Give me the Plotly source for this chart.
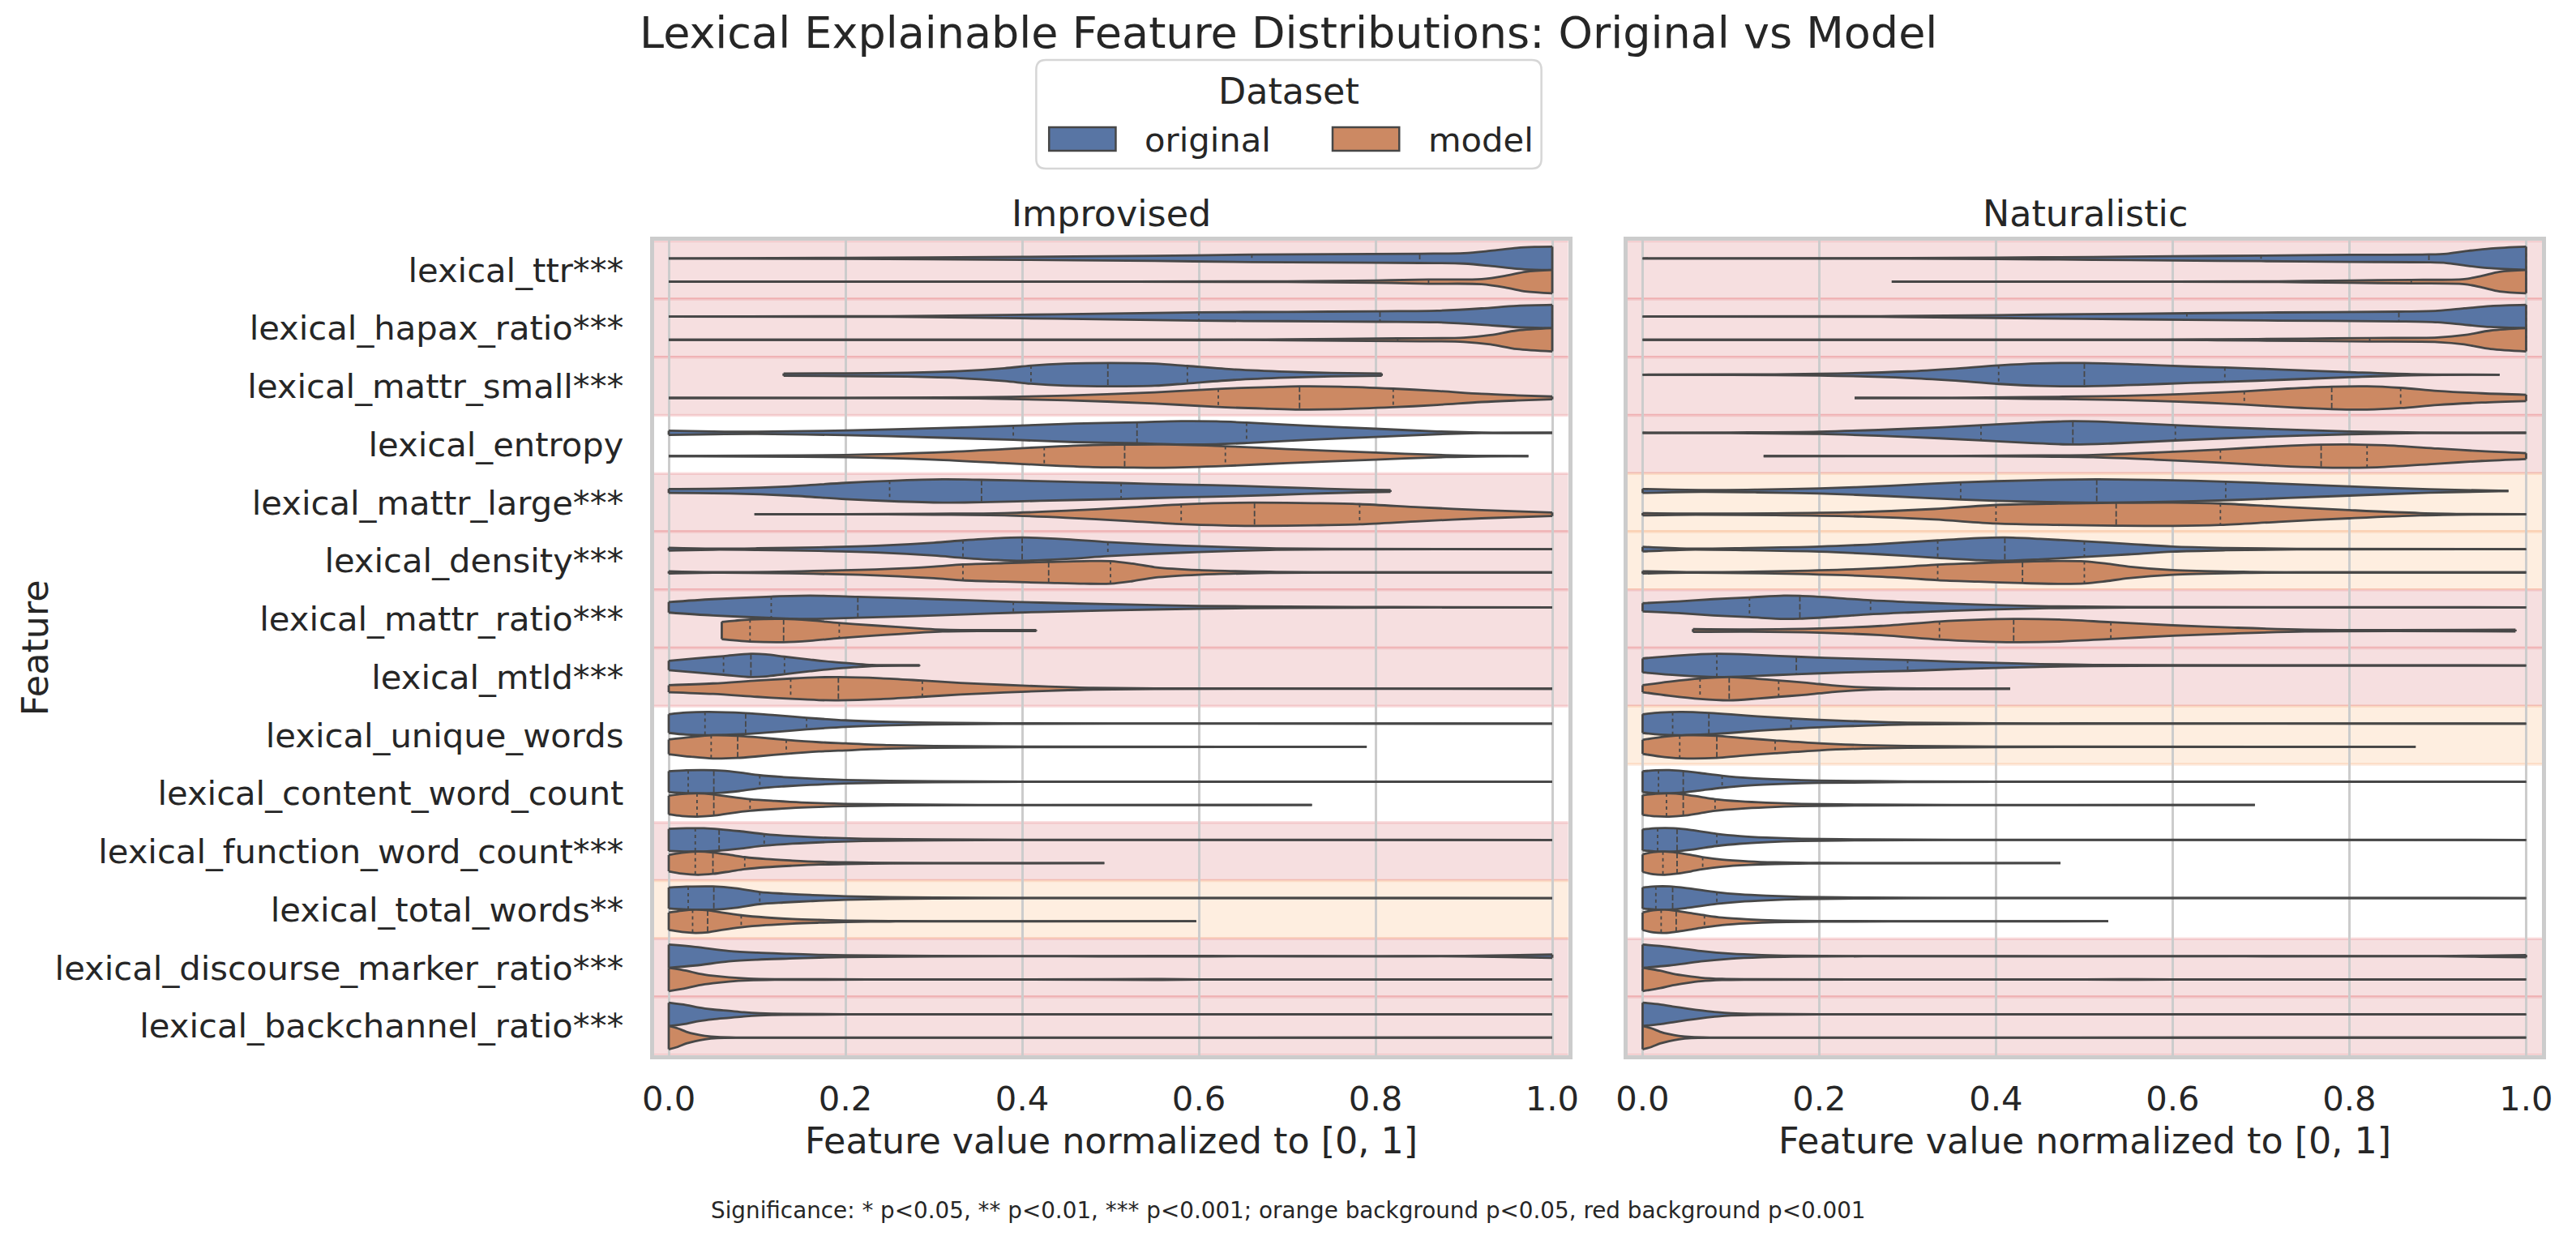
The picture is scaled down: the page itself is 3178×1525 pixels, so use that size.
import numpy as np
import plotly.graph_objects as go

# ---------------------------------------------------------------- data
FEATURES = [
    "lexical_ttr", "lexical_hapax_ratio", "lexical_mattr_small", "lexical_entropy",
    "lexical_mattr_large", "lexical_density", "lexical_mattr_ratio", "lexical_mtld",
    "lexical_unique_words", "lexical_content_word_count", "lexical_function_word_count",
    "lexical_total_words", "lexical_discourse_marker_ratio", "lexical_backchannel_ratio",
]
PANELS = ["Improvised", "Naturalistic"]
DATASETS = ["original", "model"]
SIG_IMPROVISED = ["***", "***", "***", "", "***", "***", "***", "***", "", "", "***", "**", "***", "***"]
SIG_NATURALISTIC = ["***", "***", "***", "***", "*", "*", "***", "***", "*", "", "", "", "***", "***"]
X_TICKS = [0.0, 0.2, 0.4, 0.6, 0.8, 1.0]
X_TICK_TEXT = ["0.0", "0.2", "0.4", "0.6", "0.8", "1.0"]

# violin profiles: feature value grid (X), relative density width 0..1 (W), quartiles (Q)
IMP_ORIG_X = [
    [0, 0.2, 0.4, 0.55, 0.66, 0.75, 0.85, 0.9, 0.93, 0.96, 0.98, 1.0],
    [0, 0.25, 0.4, 0.5, 0.6, 0.7, 0.805, 0.87, 0.92, 0.96, 1.0],
    [0.13, 0.2, 0.27, 0.33, 0.38, 0.41, 0.45, 0.5, 0.55, 0.587, 0.64, 0.7, 0.75, 0.807],
    [0, 0.05, 0.1, 0.2, 0.3, 0.39, 0.46, 0.53, 0.58, 0.62, 0.654, 0.72, 0.8, 0.87, 0.92, 1.0],
    [0, 0.07, 0.137, 0.2, 0.25, 0.31, 0.354, 0.42, 0.512, 0.58, 0.65, 0.72, 0.78, 0.817],
    [0, 0.05, 0.1, 0.17, 0.24, 0.3, 0.333, 0.37, 0.4, 0.45, 0.497, 0.55, 0.6, 0.68, 0.75, 1.0],
    [0, 0.05, 0.116, 0.16, 0.214, 0.28, 0.34, 0.39, 0.45, 0.51, 0.6, 0.7, 0.82, 1.0],
    [0, 0.03, 0.062, 0.093, 0.11, 0.131, 0.16, 0.185, 0.21, 0.23, 0.284],
    [0, 0.02, 0.045, 0.087, 0.12, 0.156, 0.2, 0.25, 0.3, 0.38, 0.5, 1.0],
    [0, 0.02, 0.04, 0.06, 0.08, 0.103, 0.13, 0.16, 0.2, 0.25, 0.3, 0.4, 1.0],
    [0, 0.02, 0.04, 0.057, 0.08, 0.108, 0.14, 0.18, 0.22, 0.3, 0.4, 1.0],
    [0, 0.02, 0.05, 0.075, 0.103, 0.13, 0.16, 0.2, 0.25, 0.3, 0.4, 1.0],
    [0, 0.03, 0.068, 0.1, 0.137, 0.17, 0.2, 0.3, 0.45, 0.55, 0.65, 0.8, 0.9, 0.95, 1.0],
    [0, 0.02, 0.034, 0.05, 0.068, 0.085, 0.103, 0.13, 0.2, 1.0],
]
IMP_ORIG_W = [
    [0.0, 0.04, 0.13, 0.22, 0.32, 0.36, 0.4, 0.45, 0.65, 0.9, 0.98, 1.0],
    [0.0, 0.03, 0.15, 0.25, 0.36, 0.4, 0.45, 0.5, 0.7, 0.92, 1.0],
    [0.1, 0.12, 0.17, 0.3, 0.55, 0.78, 0.95, 1.0, 0.95, 0.75, 0.45, 0.25, 0.15, 0.1],
    [0.18, 0.12, 0.1, 0.2, 0.4, 0.6, 0.8, 0.9, 1.0, 0.98, 0.88, 0.62, 0.35, 0.12, 0.03, 0.0],
    [0.17, 0.22, 0.4, 0.7, 0.87, 1.0, 0.96, 0.85, 0.68, 0.55, 0.43, 0.25, 0.12, 0.07],
    [0.12, 0.05, 0.07, 0.15, 0.3, 0.55, 0.75, 0.93, 1.0, 0.85, 0.6, 0.4, 0.25, 0.07, 0.02, 0.0],
    [0.45, 0.7, 0.92, 1.0, 0.9, 0.75, 0.6, 0.47, 0.35, 0.25, 0.12, 0.06, 0.02, 0.0],
    [0.4, 0.6, 0.8, 1.0, 0.95, 0.75, 0.5, 0.3, 0.15, 0.05, 0.03],
    [0.8, 0.95, 1.0, 0.9, 0.72, 0.5, 0.28, 0.15, 0.08, 0.03, 0.01, 0.0],
    [0.9, 0.98, 1.0, 0.95, 0.8, 0.56, 0.4, 0.27, 0.15, 0.08, 0.04, 0.01, 0.0],
    [0.95, 1.0, 1.0, 0.92, 0.75, 0.5, 0.32, 0.18, 0.1, 0.04, 0.01, 0.0],
    [0.9, 0.98, 1.0, 0.85, 0.52, 0.38, 0.27, 0.15, 0.08, 0.04, 0.01, 0.0],
    [1.0, 0.8, 0.45, 0.3, 0.2, 0.12, 0.08, 0.02, 0.01, 0.03, 0.01, 0.0, 0.02, 0.07, 0.14],
    [1.0, 0.8, 0.58, 0.42, 0.3, 0.18, 0.1, 0.04, 0.01, 0.0],
]
IMP_ORIG_Q = [
    [0.66, 0.85, 1.0], [0.6, 0.805, 1.0], [0.41, 0.497, 0.587], [0.39, 0.53, 0.654],
    [0.25, 0.354, 0.512], [0.333, 0.4, 0.497], [0.116, 0.214, 0.39], [0.062, 0.093, 0.131],
    [0.041, 0.087, 0.156], [0.022, 0.051, 0.103], [0.03, 0.057, 0.108], [0.022, 0.051, 0.103],
    None, None,
]

IMP_MODEL_X = [
    [0, 0.5, 0.7, 0.8, 0.86, 0.92, 0.95, 0.97, 1.0],
    [0, 0.6, 0.7, 0.825, 0.9, 0.93, 0.96, 1.0],
    [0, 0.2, 0.35, 0.45, 0.55, 0.622, 0.68, 0.714, 0.76, 0.82, 0.87, 0.92, 0.96, 1.0],
    [0, 0.1, 0.2, 0.3, 0.38, 0.425, 0.48, 0.516, 0.56, 0.63, 0.7, 0.8, 0.88, 0.93, 0.973],
    [0.097, 0.2, 0.3, 0.38, 0.45, 0.52, 0.58, 0.63, 0.663, 0.73, 0.782, 0.85, 0.92, 1.0],
    [0, 0.05, 0.15, 0.25, 0.3, 0.333, 0.38, 0.43, 0.47, 0.5, 0.525, 0.55, 0.6, 0.68, 0.75, 1.0],
    [0.06, 0.075, 0.092, 0.13, 0.16, 0.193, 0.23, 0.26, 0.29, 0.31, 0.35, 0.416],
    [0, 0.05, 0.1, 0.138, 0.17, 0.192, 0.24, 0.287, 0.33, 0.38, 0.43, 0.48, 0.55, 1.0],
    [0, 0.025, 0.05, 0.078, 0.1, 0.133, 0.17, 0.2, 0.25, 0.3, 0.4, 0.79],
    [0, 0.015, 0.032, 0.05, 0.07, 0.092, 0.12, 0.15, 0.2, 0.25, 0.35, 0.728],
    [0, 0.015, 0.033, 0.05, 0.07, 0.086, 0.11, 0.14, 0.17, 0.2, 0.25, 0.3, 0.493],
    [0, 0.015, 0.03, 0.044, 0.06, 0.082, 0.11, 0.14, 0.17, 0.2, 0.25, 0.3, 0.597],
    [0, 0.02, 0.034, 0.05, 0.068, 0.09, 0.12, 0.3, 0.5, 0.55, 0.6, 1.0],
    [0, 0.01, 0.02, 0.03, 0.041, 0.055, 0.08, 1.0],
]
IMP_MODEL_W = [
    [0.0, 0.0, 0.03, 0.1, 0.18, 0.22, 0.55, 0.85, 1.0],
    [0.0, 0.0, 0.04, 0.12, 0.18, 0.4, 0.8, 1.0],
    [0.0, 0.01, 0.05, 0.2, 0.48, 0.78, 0.93, 1.0, 0.97, 0.8, 0.6, 0.35, 0.22, 0.12],
    [0.0, 0.04, 0.1, 0.3, 0.6, 0.78, 0.95, 0.98, 1.0, 0.85, 0.6, 0.3, 0.08, 0.02, 0.0],
    [0.0, 0.0, 0.04, 0.1, 0.3, 0.58, 0.85, 0.97, 1.0, 0.95, 0.87, 0.6, 0.35, 0.15],
    [0.1, 0.03, 0.1, 0.3, 0.5, 0.68, 0.8, 0.9, 0.97, 0.97, 0.75, 0.45, 0.2, 0.05, 0.0, 0.0],
    [0.74, 0.85, 0.95, 1.0, 0.88, 0.65, 0.45, 0.3, 0.15, 0.08, 0.04, 0.04],
    [0.3, 0.45, 0.7, 0.87, 0.98, 1.0, 0.9, 0.7, 0.5, 0.33, 0.18, 0.07, 0.02, 0.0],
    [0.63, 0.85, 1.0, 0.95, 0.82, 0.6, 0.4, 0.3, 0.15, 0.08, 0.02, 0.0],
    [0.8, 0.95, 1.0, 0.92, 0.7, 0.5, 0.35, 0.22, 0.1, 0.05, 0.01, 0.0],
    [0.7, 0.9, 1.0, 0.92, 0.7, 0.52, 0.35, 0.22, 0.12, 0.07, 0.02, 0.01, 0.0],
    [0.75, 0.92, 1.0, 0.95, 0.75, 0.52, 0.33, 0.2, 0.12, 0.06, 0.02, 0.01, 0.0],
    [1.0, 0.75, 0.5, 0.32, 0.18, 0.08, 0.03, 0.01, 0.02, 0.04, 0.01, 0.0],
    [1.0, 0.8, 0.5, 0.3, 0.15, 0.05, 0.01, 0.0],
]
IMP_MODEL_Q = [
    [0.86, 1.0, 1.0], [0.825, 1.0, 1.0], [0.622, 0.714, 0.82], [0.425, 0.516, 0.63],
    [0.58, 0.663, 0.782], [0.333, 0.43, 0.5], [0.092, 0.13, 0.193], [0.138, 0.192, 0.287],
    [0.048, 0.078, 0.133], [0.032, 0.051, 0.092], [0.03, 0.05, 0.086], [0.027, 0.044, 0.082],
    None, None,
]

NAT_ORIG_X = [
    [0, 0.3, 0.4, 0.51, 0.6, 0.7, 0.8, 0.89, 0.91, 0.93, 0.96, 1.0],
    [0, 0.27, 0.4, 0.5, 0.616, 0.72, 0.856, 0.9, 0.93, 0.96, 1.0],
    [0, 0.1, 0.2, 0.3, 0.35, 0.403, 0.45, 0.5, 0.56, 0.62, 0.659, 0.72, 0.8, 0.87, 0.97],
    [0, 0.1, 0.2, 0.3, 0.383, 0.44, 0.487, 0.53, 0.603, 0.7, 0.8, 0.88, 1.0],
    [0, 0.066, 0.13, 0.2, 0.28, 0.36, 0.44, 0.514, 0.59, 0.66, 0.73, 0.8, 0.89, 0.98],
    [0, 0.05, 0.12, 0.2, 0.27, 0.334, 0.38, 0.41, 0.45, 0.5, 0.55, 0.6, 0.66, 0.74, 1.0],
    [0, 0.04, 0.08, 0.121, 0.16, 0.178, 0.22, 0.258, 0.3, 0.35, 0.4, 0.46, 0.55, 1.0],
    [0, 0.04, 0.084, 0.13, 0.174, 0.23, 0.3, 0.35, 0.4, 0.45, 0.51, 0.6, 1.0],
    [0, 0.02, 0.045, 0.075, 0.1, 0.13, 0.168, 0.2, 0.25, 0.3, 0.4, 1.0],
    [0, 0.015, 0.03, 0.046, 0.065, 0.09, 0.12, 0.16, 0.2, 0.3, 0.4, 1.0],
    [0, 0.015, 0.035, 0.055, 0.084, 0.11, 0.14, 0.18, 0.25, 0.35, 1.0],
    [0, 0.015, 0.03, 0.05, 0.084, 0.11, 0.14, 0.18, 0.25, 0.35, 1.0],
    [0, 0.03, 0.066, 0.1, 0.135, 0.17, 0.25, 0.5, 0.9, 0.95, 1.0],
    [0, 0.02, 0.034, 0.05, 0.068, 0.085, 0.1, 0.13, 0.2, 1.0],
]
NAT_ORIG_W = [
    [0.0, 0.02, 0.06, 0.12, 0.18, 0.24, 0.3, 0.34, 0.4, 0.6, 0.85, 1.0],
    [0.0, 0.03, 0.12, 0.2, 0.28, 0.35, 0.42, 0.5, 0.7, 0.9, 1.0],
    [0.0, 0.02, 0.07, 0.28, 0.5, 0.8, 0.97, 1.0, 0.88, 0.7, 0.62, 0.45, 0.22, 0.05, 0.0],
    [0.0, 0.03, 0.1, 0.35, 0.65, 0.88, 1.0, 0.92, 0.66, 0.35, 0.12, 0.03, 0.0],
    [0.17, 0.08, 0.12, 0.22, 0.45, 0.74, 0.92, 1.0, 0.93, 0.8, 0.6, 0.4, 0.15, 0.0],
    [0.2, 0.05, 0.1, 0.22, 0.45, 0.75, 0.95, 1.0, 0.88, 0.67, 0.45, 0.22, 0.1, 0.02, 0.0],
    [0.35, 0.5, 0.7, 0.85, 1.0, 0.98, 0.8, 0.6, 0.45, 0.3, 0.18, 0.08, 0.02, 0.0],
    [0.6, 0.85, 1.0, 0.9, 0.75, 0.6, 0.47, 0.33, 0.22, 0.12, 0.05, 0.02, 0.0],
    [0.8, 0.95, 1.0, 0.92, 0.8, 0.62, 0.45, 0.32, 0.18, 0.08, 0.02, 0.0],
    [0.9, 0.98, 1.0, 0.92, 0.75, 0.52, 0.32, 0.18, 0.1, 0.03, 0.01, 0.0],
    [0.9, 1.0, 1.0, 0.85, 0.52, 0.33, 0.2, 0.1, 0.04, 0.01, 0.0],
    [0.9, 1.0, 1.0, 0.85, 0.5, 0.32, 0.2, 0.1, 0.04, 0.01, 0.0],
    [1.0, 0.8, 0.45, 0.22, 0.1, 0.04, 0.01, 0.0, 0.01, 0.05, 0.1],
    [1.0, 0.85, 0.68, 0.5, 0.32, 0.18, 0.1, 0.04, 0.01, 0.0],
]
NAT_ORIG_Q = [
    [0.7, 0.89, 1.0], [0.616, 0.856, 1.0], [0.403, 0.5, 0.659], [0.383, 0.487, 0.603],
    [0.36, 0.514, 0.66], [0.334, 0.41, 0.5], [0.121, 0.178, 0.258], [0.084, 0.174, 0.3],
    [0.034, 0.075, 0.168], [0.018, 0.046, 0.09], [0.017, 0.039, 0.084], [0.015, 0.034, 0.084],
    None, None,
]

NAT_MODEL_X = [
    [0.282, 0.6, 0.72, 0.8, 0.87, 0.93, 0.95, 0.97, 1.0],
    [0, 0.55, 0.65, 0.75, 0.823, 0.9, 0.93, 0.96, 1.0],
    [0.24, 0.35, 0.44, 0.52, 0.58, 0.64, 0.681, 0.73, 0.78, 0.82, 0.858, 0.9, 0.95, 1.0],
    [0.137, 0.35, 0.45, 0.51, 0.58, 0.654, 0.72, 0.768, 0.8, 0.84, 0.9, 0.95, 1.0],
    [0, 0.06, 0.15, 0.25, 0.33, 0.4, 0.47, 0.536, 0.6, 0.654, 0.72, 0.8, 0.88, 0.94, 1.0],
    [0, 0.05, 0.15, 0.25, 0.3, 0.334, 0.38, 0.43, 0.47, 0.5, 0.525, 0.55, 0.6, 0.68, 0.75, 1.0],
    [0.057, 0.12, 0.2, 0.27, 0.336, 0.38, 0.42, 0.47, 0.53, 0.6, 0.67, 0.75, 0.85, 0.988],
    [0, 0.03, 0.065, 0.098, 0.13, 0.154, 0.18, 0.2, 0.22, 0.24, 0.28, 0.416],
    [0, 0.025, 0.05, 0.084, 0.11, 0.15, 0.2, 0.25, 0.3, 0.4, 0.875],
    [0, 0.015, 0.03, 0.046, 0.065, 0.082, 0.11, 0.14, 0.18, 0.25, 0.35, 0.693],
    [0, 0.012, 0.025, 0.039, 0.055, 0.068, 0.09, 0.12, 0.15, 0.2, 0.3, 0.473],
    [0, 0.012, 0.025, 0.038, 0.055, 0.07, 0.09, 0.12, 0.15, 0.2, 0.3, 0.527],
    [0, 0.02, 0.034, 0.05, 0.066, 0.09, 0.12, 0.5, 0.55, 0.6, 1.0],
    [0, 0.01, 0.02, 0.03, 0.041, 0.055, 0.08, 1.0],
]
NAT_MODEL_W = [
    [0.0, 0.0, 0.03, 0.1, 0.15, 0.22, 0.5, 0.85, 1.0],
    [0.0, 0.0, 0.04, 0.1, 0.15, 0.2, 0.4, 0.8, 1.0],
    [0.0, 0.01, 0.07, 0.15, 0.25, 0.42, 0.57, 0.8, 0.97, 1.0, 0.87, 0.6, 0.4, 0.27],
    [0.0, 0.01, 0.05, 0.1, 0.3, 0.57, 0.85, 0.98, 1.0, 0.93, 0.65, 0.42, 0.25],
    [0.1, 0.05, 0.08, 0.2, 0.45, 0.8, 0.92, 0.98, 1.0, 0.92, 0.65, 0.35, 0.1, 0.02, 0.0],
    [0.1, 0.03, 0.1, 0.3, 0.5, 0.67, 0.8, 0.92, 0.98, 0.95, 0.75, 0.5, 0.2, 0.05, 0.0, 0.0],
    [0.12, 0.1, 0.18, 0.4, 0.78, 0.93, 1.0, 0.95, 0.72, 0.45, 0.25, 0.08, 0.04, 0.08],
    [0.3, 0.6, 0.88, 1.0, 0.85, 0.7, 0.55, 0.4, 0.25, 0.15, 0.05, 0.0],
    [0.6, 0.88, 1.0, 0.95, 0.78, 0.55, 0.3, 0.15, 0.08, 0.02, 0.0],
    [0.85, 0.97, 1.0, 0.92, 0.7, 0.5, 0.32, 0.2, 0.1, 0.04, 0.01, 0.0],
    [0.75, 0.95, 1.0, 0.9, 0.7, 0.52, 0.3, 0.15, 0.07, 0.02, 0.005, 0.0],
    [0.75, 0.95, 1.0, 0.9, 0.7, 0.52, 0.32, 0.17, 0.08, 0.03, 0.005, 0.0],
    [1.0, 0.75, 0.5, 0.3, 0.15, 0.05, 0.02, 0.01, 0.02, 0.01, 0.0],
    [1.0, 0.8, 0.5, 0.3, 0.15, 0.05, 0.01, 0.0],
]
NAT_MODEL_Q = [
    [0.87, 1.0, 1.0], [0.823, 1.0, 1.0], [0.681, 0.78, 0.858], [0.654, 0.768, 0.82],
    [0.4, 0.536, 0.654], [0.334, 0.43, 0.5], [0.336, 0.42, 0.53], [0.065, 0.098, 0.154],
    [0.042, 0.084, 0.15], [0.027, 0.046, 0.082], [0.023, 0.039, 0.068], [0.021, 0.038, 0.07],
    None, None,
]

TITLE = "Lexical Explainable Feature Distributions: Original vs Model"
X_LABEL = "Feature value normalized to [0, 1]"
Y_LABEL = "Feature"
LEGEND_TITLE = "Dataset"
FOOTNOTE = ("Significance: * p&lt;0.05, ** p&lt;0.01, *** p&lt;0.001; "
            "orange background p&lt;0.05, red background p&lt;0.001")

# ---------------------------------------------------------------- style
W_PX, H_PX = 3178, 1525
FONT = "DejaVu Sans"
TEXT = "#262626"
FILL = {"original": "#5875a4", "model": "#cc8963"}
EDGE = "#474747"
GRID = "#cccccc"
RED_FILL, RED_EDGE = "#f6dfe0", "rgba(225,70,80,0.17)"
ORANGE_FILL, ORANGE_EDGE = "#feeee0", "rgba(245,150,90,0.20)"
OFFSET = {"original": -0.2, "model": 0.2}
HALF = 0.2
X_RANGE = [-0.017, 1.018]
PANEL_PX = [(798.8, 1937.3), (2011.3, 3149.8)]
PLOT_TOP, PLOT_BOT = 297.25, 1301.75


def hx(p):
    return p / W_PX


def hy(p):
    return 1 - p / H_PX


SERIES = {
    ("Improvised", "original"): (IMP_ORIG_X, IMP_ORIG_W, IMP_ORIG_Q),
    ("Improvised", "model"): (IMP_MODEL_X, IMP_MODEL_W, IMP_MODEL_Q),
    ("Naturalistic", "original"): (NAT_ORIG_X, NAT_ORIG_W, NAT_ORIG_Q),
    ("Naturalistic", "model"): (NAT_MODEL_X, NAT_MODEL_W, NAT_MODEL_Q),
}
SIGS = {"Improvised": SIG_IMPROVISED, "Naturalistic": SIG_NATURALISTIC}

fig = go.Figure()
shapes = []
annotations = []

for p_idx, panel in enumerate(PANELS):
    sfx = "" if p_idx == 0 else "2"
    xa, ya = "x" + sfx, "y" + sfx
    # significance bands
    for i, sig in enumerate(SIGS[panel]):
        if not sig:
            continue
        fillc, edgec = (RED_FILL, RED_EDGE) if sig == "***" else (ORANGE_FILL, ORANGE_EDGE)
        shapes.append(dict(type="rect", xref=xa + " domain", yref=ya, x0=0, x1=1,
                           y0=i - 0.5, y1=i + 0.5, fillcolor=fillc, line=dict(width=0),
                           layer="below"))
        for yy in (i - 0.5, i + 0.5):
            shapes.append(dict(type="line", xref=xa + " domain", yref=ya, x0=0, x1=1,
                               y0=yy, y1=yy, line=dict(color=edgec, width=3.5), layer="below"))

    ends_x, ends_y = [], []
    qx, qy, mx, my = [], [], [], []
    for ds in DATASETS:
        XS, WS, QS = SERIES[(panel, ds)]
        for i in range(len(FEATURES)):
            xs, ws, q = XS[i], WS[i], QS[i]
            c = i + OFFSET[ds]
            bot = [c + HALF * w for w in ws]
            top = [c - HALF * w for w in ws]
            line = dict(color=EDGE, width=2.8, shape="spline", smoothing=0.9)
            fig.add_trace(go.Scatter(x=xs, y=bot, mode="lines", line=line, xaxis=xa, yaxis=ya,
                                     showlegend=False, hoverinfo="skip"))
            fig.add_trace(go.Scatter(x=xs, y=top, mode="lines", line=line, fill="tonexty",
                                     fillcolor=FILL[ds], xaxis=xa, yaxis=ya,
                                     showlegend=False, hoverinfo="skip"))
            for k in (0, -1):
                if ws[k] > 0:
                    ends_x += [xs[k], xs[k], None]
                    ends_y += [c - HALF * ws[k], c + HALF * ws[k], None]
            if q:
                for j, qv in enumerate(q):
                    wq = float(np.interp(qv, xs, ws))
                    if j == 1:
                        mx += [qv, qv, None]
                        my += [c - HALF * wq, c + HALF * wq, None]
                    else:
                        qx += [qv, qv, None]
                        qy += [c - HALF * wq, c + HALF * wq, None]
    fig.add_trace(go.Scatter(x=ends_x, y=ends_y, mode="lines", line=dict(color=EDGE, width=2.8),
                             xaxis=xa, yaxis=ya, showlegend=False, hoverinfo="skip"))
    fig.add_trace(go.Scatter(x=qx, y=qy, mode="lines",
                             line=dict(color=EDGE, width=1.8, dash="4px,4px"),
                             xaxis=xa, yaxis=ya, showlegend=False, hoverinfo="skip"))
    fig.add_trace(go.Scatter(x=mx, y=my, mode="lines",
                             line=dict(color=EDGE, width=1.8, dash="7px,3px"),
                             xaxis=xa, yaxis=ya, showlegend=False, hoverinfo="skip"))

    x0p, x1p = PANEL_PX[p_idx]
    cx = hx((x0p + x1p) / 2)
    annotations.append(dict(text=panel, x=cx, y=hy(263), xref="paper", yref="paper",
                            showarrow=False, xanchor="center", yanchor="middle",
                            font=dict(size=44.4, color=TEXT, family=FONT)))
    annotations.append(dict(text=X_LABEL, x=cx, y=hy(1407), xref="paper", yref="paper",
                            showarrow=False, xanchor="center", yanchor="middle",
                            font=dict(size=44.4, color=TEXT, family=FONT)))

y_labels = [f + s for f, s in zip(FEATURES, SIG_IMPROVISED)]
axis_common = dict(showline=True, mirror=True, linecolor=GRID, linewidth=4.5, zeroline=False)
layout_axes = {}
for p_idx in range(2):
    sfx = "" if p_idx == 0 else "2"
    x0p, x1p = PANEL_PX[p_idx]
    layout_axes["xaxis" + sfx] = dict(
        domain=[hx(x0p), hx(x1p)], range=X_RANGE, anchor="y" + sfx,
        tickvals=X_TICKS, ticktext=X_TICK_TEXT, showgrid=True, gridcolor=GRID, gridwidth=2.8,
        ticks="", ticklabelstandoff=13,
        tickfont=dict(size=41.7, color=TEXT, family=FONT), **axis_common)
    layout_axes["yaxis" + sfx] = dict(
        domain=[hy(PLOT_BOT), hy(PLOT_TOP)], range=[len(FEATURES) - 0.5, -0.5], anchor="x" + sfx,
        tickvals=list(range(len(FEATURES))), ticktext=y_labels, showgrid=False,
        showticklabels=(p_idx == 0), ticks="", ticklabelstandoff=24,
        tickfont=dict(size=41.7, color=TEXT, family=FONT), **axis_common)

# title, y label, footnote
annotations.append(dict(text=TITLE, x=0.5, y=hy(40), xref="paper", yref="paper", showarrow=False,
                        xanchor="center", yanchor="middle",
                        font=dict(size=54, color=TEXT, family=FONT)))
annotations.append(dict(text=Y_LABEL, x=hx(29), y=hy((PLOT_TOP + PLOT_BOT) / 2), xref="paper",
                        yref="paper", showarrow=False, textangle=-90, xanchor="center",
                        yanchor="middle", font=dict(size=44.4, color=TEXT, family=FONT)))
annotations.append(dict(text=FOOTNOTE, x=0.5, y=hy(1493), xref="paper", yref="paper",
                        showarrow=False, xanchor="center", yanchor="middle",
                        font=dict(size=27.8, color=TEXT, family=FONT)))

# legend drawn as shapes + text
lx0, lx1, ly0, ly1, r = 1275, 1904, 74, 208, 12
rx, ry = r / W_PX, r / H_PX
X0, X1, Y0, Y1 = hx(lx0), hx(lx1), hy(ly0), hy(ly1)
path = (f"M {X0 + rx},{Y0} L {X1 - rx},{Y0} Q {X1},{Y0} {X1},{Y0 - ry} "
        f"L {X1},{Y1 + ry} Q {X1},{Y1} {X1 - rx},{Y1} L {X0 + rx},{Y1} "
        f"Q {X0},{Y1} {X0},{Y1 + ry} L {X0},{Y0 - ry} Q {X0},{Y0} {X0 + rx},{Y0} Z")
shapes.append(dict(type="path", path=path, xref="paper", yref="paper",
                   fillcolor="white", line=dict(color="#d6d6d6", width=2.5), layer="above"))
annotations.append(dict(text=LEGEND_TITLE, x=0.5, y=hy(112), xref="paper", yref="paper",
                        showarrow=False, xanchor="center", yanchor="middle",
                        font=dict(size=44.4, color=TEXT, family=FONT)))
for ds, (px0, px1, tx) in zip(DATASETS, [(1291, 1374, 1408), (1644, 1727, 1761)]):
    shapes.append(dict(type="rect", xref="paper", yref="paper", x0=hx(px0), x1=hx(px1),
                       y0=hy(186), y1=hy(157), fillcolor=FILL[ds],
                       line=dict(color=EDGE, width=2.5), layer="above"))
    annotations.append(dict(text=ds, x=hx(tx), y=hy(172), xref="paper", yref="paper",
                            showarrow=False, xanchor="left", yanchor="middle",
                            font=dict(size=41.7, color=TEXT, family=FONT)))

fig.update_layout(
    width=W_PX, height=H_PX, margin=dict(l=0, r=0, t=0, b=0),
    paper_bgcolor="white", plot_bgcolor="white", showlegend=False,
    font=dict(family=FONT, color=TEXT),
    shapes=shapes, annotations=annotations, **layout_axes,
)
fig.write_html("out.html")
